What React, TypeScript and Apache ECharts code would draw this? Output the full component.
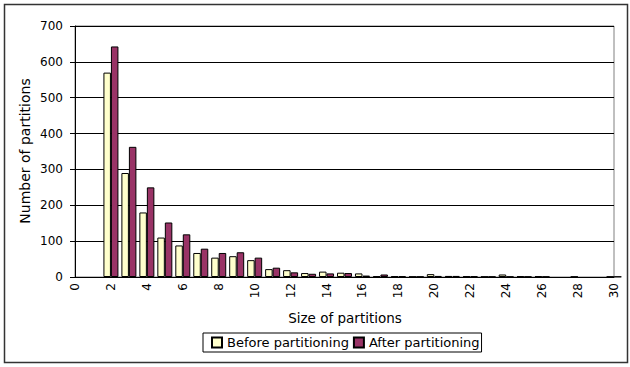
import React, { useEffect, useRef } from "react";
import * as echarts from "echarts";

const sizes = [0, 1, 2, 3, 4, 5, 6, 7, 8, 9, 10, 11, 12, 13, 14, 15, 16, 17, 18, 19, 20, 21, 22, 23, 24, 25, 26, 27, 28, 29, 30];
const beforeValues = [0, 0, 570, 290, 180, 110, 88, 67, 54, 58, 47, 22, 19, 11, 15, 12, 10, 2, 2, 1, 8, 3, 2, 1, 7, 2, 2, 0, 1, 0, 1];
const afterValues = [0, 0, 643, 363, 250, 152, 119, 79, 67, 69, 54, 26, 13, 9, 10, 11, 4, 7, 2, 1, 3, 3, 2, 1, 1, 1, 1, 0, 0, 0, 1];
const seriesNames = ["Before partitioning", "After partitioning"];
const yTitle = "Number of partitions";
const xTitle = "Size of partitions";

const FONT = "DejaVu Sans";

export default function App() {
  const ref = useRef<HTMLDivElement>(null);
  useEffect(() => {
    if (!ref.current) return;
    const chart = echarts.init(ref.current, undefined, { renderer: "svg" });
    const toData = (vals: number[]) => sizes.map((s, i) => [s, vals[i] === 0 ? null : vals[i]]);
    chart.setOption({
      animation: false,
      backgroundColor: "#fff",
      textStyle: { fontFamily: FONT },
      grid: { left: 75, right: 16, top: 26, bottom: 90, show: true, borderColor: "#808080", borderWidth: 1 },
      xAxis: {
        type: "value",
        min: 0,
        max: 30,
        interval: 2,
        axisLine: { lineStyle: { color: "#000", width: 1 } },
        axisTick: { show: false },
        splitLine: { show: false },
        axisLabel: { rotate: 90, fontSize: 12, color: "#000", fontFamily: FONT, margin: 6 },
      },
      yAxis: {
        type: "value",
        min: 0,
        max: 700,
        interval: 100,
        axisLine: { show: true, lineStyle: { color: "#000", width: 1 } },
        axisTick: { show: true, length: 5, lineStyle: { color: "#000" } },
        splitLine: { show: true, lineStyle: { color: "#000", width: 1 } },
        axisLabel: { fontSize: 12, color: "#000", fontFamily: FONT, margin: 12 },
      },
      legend: {
        left: 203,
        top: 333,
        orient: "horizontal",
        icon: "rect",
        itemWidth: 10,
        itemHeight: 10,
        itemGap: 4,
        padding: [3, 2, 3, 8],
        borderColor: "#000",
        borderWidth: 1,
        backgroundColor: "#fff",
        textStyle: { fontSize: 13, color: "#000", fontFamily: FONT },
        data: seriesNames,
      },
      graphic: [
        {
          type: "rect",
          shape: { x: 4.5, y: 4.5, width: 623, height: 358 },
          style: { fill: "none", stroke: "#333", lineWidth: 1.5 },
          silent: true,
        },
        {
          type: "text",
          x: 25,
          y: 151,
          rotation: Math.PI / 2,
          style: { text: yTitle, font: `14px '${FONT}'`, fill: "#000", textAlign: "center", textVerticalAlign: "middle" },
        },
        {
          type: "text",
          x: 345,
          y: 318,
          style: { text: xTitle, font: `13.5px '${FONT}'`, fill: "#000", textAlign: "center", textVerticalAlign: "middle" },
        },
      ],
      series: [
        {
          name: seriesNames[0],
          type: "bar",
          barWidth: 7.5,
          barGap: "0%",
          itemStyle: { color: "#FFFFCC", borderColor: "#000", borderWidth: 1 },
          data: toData(beforeValues),
        },
        {
          name: seriesNames[1],
          type: "bar",
          barWidth: 7.5,
          barGap: "0%",
          itemStyle: { color: "#993366", borderColor: "#000", borderWidth: 1 },
          data: toData(afterValues),
        },
      ],
    });
    return () => chart.dispose();
  }, []);
  return <div ref={ref} style={{ position: "fixed", left: 0, top: 0, width: 630, height: 367 }} />;
}
